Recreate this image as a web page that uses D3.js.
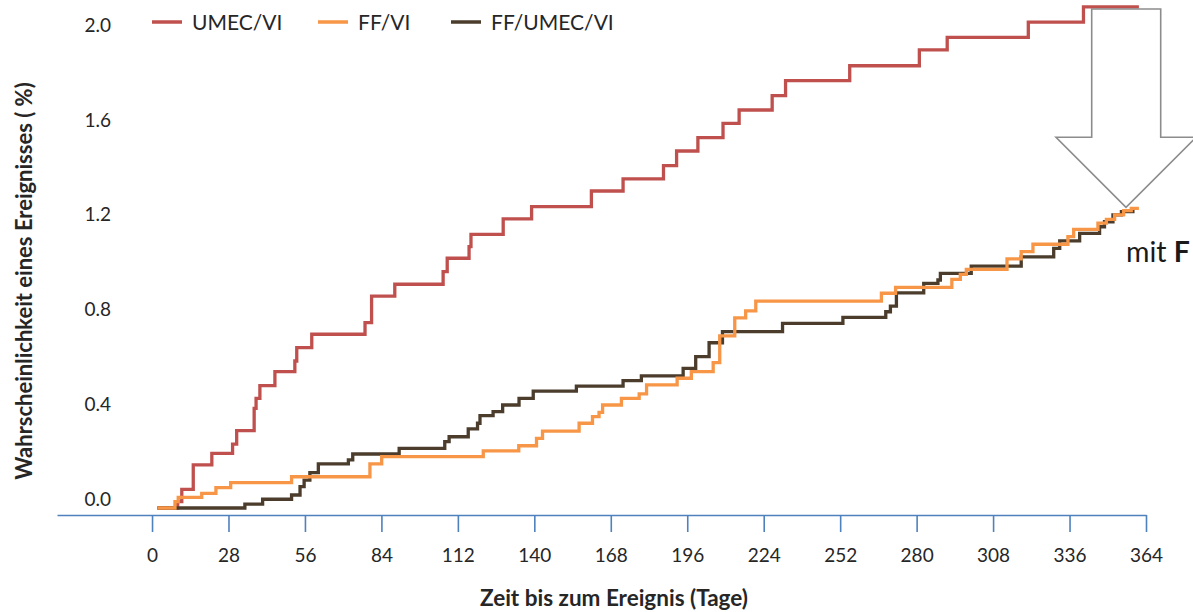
<!DOCTYPE html>
<html>
<head>
<meta charset="utf-8">
<script src="https://cdn.jsdelivr.net/npm/d3@7"></script>
<style>
  html, body { margin: 0; padding: 0; background: #ffffff; }
  svg { display: block; font-family: Lato, "Open Sans", sans-serif; }
</style>
</head>
<body>
<svg id="chart" width="1193" height="612"></svg>
<script>
// Kaplan-Meier style cumulative event probability (%), step points [day, %]
const umecVi = [
  [2, 0], [9.4, 0.027], [10.9, 0.079], [15.1, 0.182], [21.9, 0.231], [29.5, 0.270],
  [31.0, 0.327], [37.4, 0.421], [38.1, 0.463], [39.5, 0.517], [45.0, 0.576],
  [52.3, 0.621], [53.0, 0.677], [58.5, 0.734], [78.0, 0.783], [80.4, 0.895],
  [88.9, 0.945], [106.6, 0.998], [108.1, 1.055], [116.1, 1.104], [116.8, 1.156],
  [128.6, 1.221], [139.0, 1.273], [160.9, 1.339], [172.5, 1.390], [187.3, 1.446],
  [192.1, 1.508], [199.9, 1.564], [209.1, 1.625], [215.0, 1.681], [227.1, 1.742],
  [232.0, 1.805], [255.5, 1.868], [281.0, 1.935], [291.2, 1.988], [320.9, 2.052],
  [341.1, 2.117], [361.4, 2.117]
];

const ffVi = [
  [2, 0], [8.4, 0.027], [9.6, 0.045], [18.2, 0.062], [23.4, 0.086], [28.8, 0.107],
  [51.1, 0.132], [79.8, 0.186], [84.1, 0.217], [121.3, 0.241], [134.3, 0.263],
  [140.8, 0.294], [143.0, 0.325], [156.4, 0.358], [161.3, 0.386], [163.7, 0.404],
  [165.0, 0.435], [171.9, 0.463], [178.4, 0.482], [181.1, 0.520], [192.3, 0.548],
  [197.5, 0.576], [205.5, 0.614], [207.9, 0.727], [213.4, 0.803], [217.4, 0.833],
  [221.1, 0.874], [267.1, 0.907], [272.3, 0.932], [292.9, 0.966], [296.0, 0.987],
  [298.2, 1.008], [313.1, 1.052], [318.3, 1.083], [322.6, 1.114], [335.4, 1.146],
  [337.5, 1.177], [346.4, 1.203], [349.5, 1.219], [352.5, 1.238], [355.8, 1.256],
  [358.6, 1.266], [361.4, 1.266]
];

const ffUmecVi = [
  [2, 0], [34.0, 0.016], [40.5, 0.037], [51.1, 0.055], [54.2, 0.090], [55.7, 0.118],
  [57.8, 0.149], [60.9, 0.186], [71.9, 0.203], [73.5, 0.228], [90.5, 0.252],
  [107.2, 0.280], [108.8, 0.301], [115.8, 0.334], [119.2, 0.358], [120.1, 0.390],
  [124.9, 0.407], [128.4, 0.435], [134.4, 0.463], [139.6, 0.494], [155.4, 0.515],
  [172.5, 0.538], [179.2, 0.558], [194.5, 0.590], [199.1, 0.639], [204.0, 0.698],
  [208.9, 0.745], [230.9, 0.780], [253.0, 0.805], [268.7, 0.829], [270.4, 0.853],
  [272.6, 0.909], [282.6, 0.949], [287.8, 0.963], [288.7, 0.991], [300.0, 1.022],
  [318.3, 1.061], [330.2, 1.097], [332.4, 1.128], [339.7, 1.160], [347.0, 1.188],
  [348.8, 1.209], [351.9, 1.238], [355.0, 1.252], [359.8, 1.252]
];

const seriesNames = ["UMEC/VI", "FF/VI", "FF/UMEC/VI"];
const seriesColors = ["#c0504d", "#f79646", "#4b3c2c"];
const xTickValues = [0, 28, 56, 84, 112, 140, 168, 196, 224, 252, 280, 308, 336, 364];
const yTickValues = [0.0, 0.4, 0.8, 1.2, 1.6, 2.0];

const xTitle = "Zeit bis zum Ereignis (Tage)";
const yTitle = "Wahrscheinlichkeit eines Ereignisses ( %)";

const svg = d3.select("#chart");
svg.append("rect").attr("width", 1193).attr("height", 612).attr("fill", "#ffffff");

const axisY = 515;
const x = d3.scaleLinear().domain([-34.8, 364]).range([57, 1146]);
const y = d3.scaleLinear().domain([0, 2.0]).range([508, 34.5]);

// x axis along the bottom, ticks hanging below the line
const xAxis = svg.append("g")
  .attr("transform", `translate(0,${axisY})`)
  .call(d3.axisBottom(x).tickValues(xTickValues).tickSize(17).tickSizeOuter(0).tickFormat(d3.format("d")));
xAxis.select(".domain").attr("stroke", "#4f81bd").attr("stroke-width", 1.6);
xAxis.selectAll(".tick line").attr("stroke", "#4f81bd").attr("stroke-width", 1.6);
xAxis.selectAll(".tick text")
  .attr("y", 47).attr("dy", 0)
  .attr("fill", "#262626")
  .style("font-family", "Lato, sans-serif")
  .style("font-size", "19px");

// y labels only, no axis line
const yAxis = svg.append("g")
  .attr("transform", "translate(111,0)")
  .call(d3.axisLeft(y).tickValues(yTickValues).tickSize(0).tickPadding(0).tickFormat(d3.format(".1f")));
yAxis.select(".domain").remove();
yAxis.selectAll(".tick text")
  .attr("dy", -3)
  .attr("fill", "#262626")
  .style("font-family", "Lato, sans-serif")
  .style("font-size", "19px");

// step curves
const line = d3.line()
  .x(d => x(d[0]))
  .y(d => y(d[1]))
  .curve(d3.curveStepAfter);

const allSeries = [umecVi, ffUmecVi, ffVi];
const colorOf = [seriesColors[0], seriesColors[2], seriesColors[1]];
svg.append("g").selectAll("path")
  .data(allSeries)
  .join("path")
  .attr("d", line)
  .attr("fill", "none")
  .attr("stroke", (d, i) => colorOf[i])
  .attr("stroke-width", 3.3)
  .attr("stroke-linejoin", "miter");

// legend
const legendX = [152, 318, 451];
const legend = svg.append("g");
seriesNames.forEach((name, i) => {
  const g = legend.append("g").attr("transform", `translate(${legendX[i]},22)`);
  g.append("line").attr("x1", 0).attr("x2", 30).attr("y1", 0).attr("y2", 0)
    .attr("stroke", seriesColors[i]).attr("stroke-width", 3.5);
  g.append("text").attr("x", 40).attr("y", 7.5)
    .attr("fill", "#262626")
    .style("font-size", "21px")
    .text(name);
});

// axis titles
svg.append("text")
  .attr("x", 614).attr("y", 606)
  .attr("text-anchor", "middle")
  .attr("fill", "#262626")
  .style("font-size", "22.5px").style("font-weight", "bold")
  .text(xTitle);

svg.append("text")
  .attr("transform", "translate(32,281) rotate(-90)")
  .attr("text-anchor", "middle")
  .attr("fill", "#262626")
  .style("font-size", "22px").style("font-weight", "bold")
  .text(yTitle);

// callout arrow pointing at the curve ends
const arrow = [
  [1091.7, 9], [1160.7, 9], [1160.7, 137.3], [1196, 137.3],
  [1126, 207.3], [1056, 137.3], [1091.7, 137.3]
];
svg.append("path")
  .attr("d", d3.line()(arrow) + "Z")
  .attr("fill", "none")
  .attr("stroke", "#8c8c8c")
  .attr("stroke-width", 1.6);

const note = svg.append("text")
  .attr("x", 1126).attr("y", 262)
  .attr("fill", "#1a1a1a")
  .style("font-size", "28.5px");
note.append("tspan").text("mit ");
note.append("tspan").style("font-weight", "bold").text("F");
</script>
</body>
</html>
